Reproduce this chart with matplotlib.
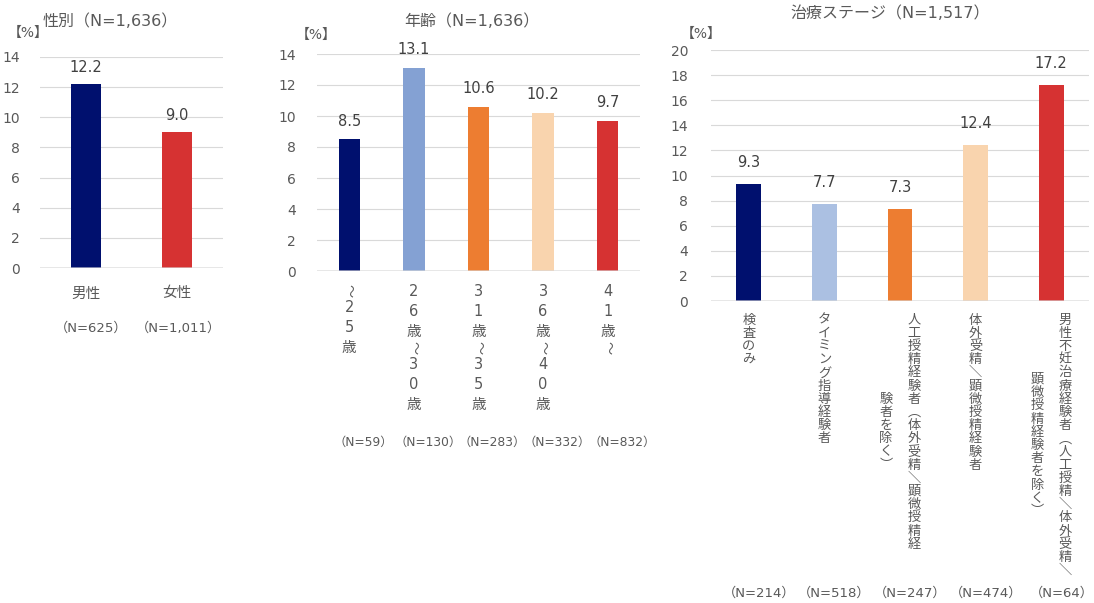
import matplotlib
matplotlib.use('Agg')
import matplotlib.pyplot as plt

plt.rcParams['font.family'] = ['DejaVu Sans', 'Noto Sans CJK JP']

# ---- data ----
sex_labels = ['男性', '女性']
sex_values = [12.2, 9.0]
sex_n = ['（N=625）', '（N=1,011）']

age_labels = ['～25歳', '26歳～30歳', '31歳～35歳', '36歳～40歳', '41歳～']
age_values = [8.5, 13.1, 10.6, 10.2, 9.7]
age_n = ['（N=59）', '（N=130）', '（N=283）', '（N=332）', '（N=832）']

stage_labels = [
    ['検査のみ'],
    ['タイミング指導経験者'],
    ['人工授精経験者︵体外受精＼顕微授精経', '験者を除く︶'],
    ['体外受精＼顕微授精経験者'],
    ['男性不妊治療経験者︵人工授精＼体外受精＼', '顕微授精経験者を除く︶'],
]
stage_values = [9.3, 7.7, 7.3, 12.4, 17.2]
stage_n = ['（N=214）', '（N=518）', '（N=247）', '（N=474）', '（N=64）']

NAVY = '#00106e'
RED = '#d63232'
ORANGE = '#ed7d31'
PEACH = '#f9d4ae'
sex_colors = [NAVY, RED]
age_colors = [NAVY, '#84a1d3', ORANGE, PEACH, RED]
stage_colors = [NAVY, '#abc0e2', ORANGE, PEACH, RED]

W, H = 1094, 603
TXT = '#595959'
GRID = '#d9d9d9'
PT = 0.72  # points per pixel at dpi 100

fig = plt.figure(figsize=(W / 100, H / 100), dpi=100)


def px_axes(x0, x1, ytop, ybot):
    return fig.add_axes([x0 / W, 1 - ybot / H, (x1 - x0) / W, (ybot - ytop) / H])


def fig_text(x, y, s, **kw):
    fig.text(x / W, 1 - y / H, s, ha='center', va='center', color=TXT, **kw)


def setup(ax, values, colors, ymax, ystep, pad, label_gap):
    x = range(len(values))
    ax.bar(x, values, width=0.33, color=colors, zorder=2)
    ax.axhline(0, color=GRID, lw=1.2, zorder=3, alpha=0.7)
    ax.set_xlim(-0.5, len(values) - 0.5)
    ax.set_ylim(0, ymax)
    ax.set_yticks(range(0, ymax + 1, ystep))
    ax.set_xticks([])
    ax.grid(axis='y', color=GRID, lw=0.8, zorder=0)
    ax.set_axisbelow(True)
    for s in ax.spines.values():
        s.set_visible(False)
    ax.tick_params(axis='y', length=0, pad=pad, labelsize=10, labelcolor=TXT)
    for i, v in enumerate(values):
        ax.annotate(f'{v:.1f}', xy=(i, v), xytext=(0, label_gap * PT),
                    textcoords='offset points', ha='center', va='center',
                    fontsize=10.5, color='#404040')


def under(ax, i, s, dx_px, dy_px, size, rot=0):
    ax.annotate(s, xy=(i, 0), xytext=(dx_px * PT, -dy_px * PT),
                textcoords='offset points', ha='center', va='center',
                fontsize=size, color=TXT, rotation=rot, annotation_clip=False)


def vertical(ax, i, columns, top_px, step_px, gap_px, size, tilde_step=None):
    longest = max(len(c) for c in columns)
    ncol = len(columns)
    for j, col in enumerate(columns):
        dx = ((ncol - 1) / 2 - j) * gap_px
        y = top_px + (longest - len(col)) / 2 * step_px
        for k, ch in enumerate(col):
            if k > 0:
                if tilde_step and ('～' in (ch, col[k - 1])):
                    y += tilde_step
                else:
                    y += step_px
            if ch == '～':
                under(ax, i, ch, dx, y, size - 1, rot=-90)
            else:
                under(ax, i, ch, dx, y, size)


# ---- panel 1: sex ----
ax1 = px_axes(40, 223, 57, 268)
setup(ax1, sex_values, sex_colors, 14, 2, 14.5, 17)
for i, (lab, n) in enumerate(zip(sex_labels, sex_n)):
    under(ax1, i, lab, 0, 25, 10.5)
    under(ax1, i, n, 5 if i == 0 else 1, 60, 9.5)
fig_text(110, 21, '性別（N=1,636）', fontsize=11.5)
fig_text(28, 33, '【%】', fontsize=10)

# ---- panel 2: age ----
ax2 = px_axes(317, 640, 54, 271)
setup(ax2, age_values, age_colors, 14, 2, 15, 18)
for i, (lab, n) in enumerate(zip(age_labels, age_n)):
    vertical(ax2, i, [lab], 20, 20, 0, 10.5, tilde_step=16.5)
    under(ax2, i, n, 14, 171, 8.8)
fig_text(472, 21, '年齢（N=1,636）', fontsize=11.5)
fig_text(316, 35, '【%】', fontsize=10)

# ---- panel 3: treatment stage ----
ax3 = px_axes(711, 1089, 50, 301)
setup(ax3, stage_values, stage_colors, 20, 2, 16.5, 22)
for i, (cols, n) in enumerate(zip(stage_labels, stage_n)):
    vertical(ax3, i, cols, 19, 13.2, 28, 9.5)
    under(ax3, i, n, 10 if i < 4 else 11, 292, 9.5)
fig_text(890, 13, '治療ステージ（N=1,517）', fontsize=11.5)
fig_text(701, 34, '【%】', fontsize=10)

fig.savefig('out.png', dpi=100, facecolor='white')
